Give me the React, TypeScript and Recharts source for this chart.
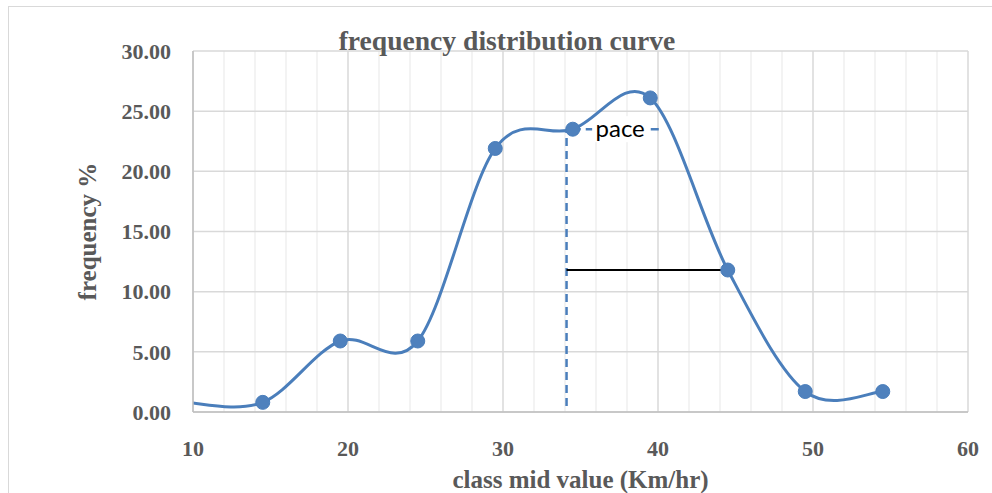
import { LineChart, Line, XAxis, YAxis, CartesianGrid, ReferenceLine } from "recharts";

// class mid values (km/hr) and frequency %
const midValues = [9.5, 14.5, 19.5, 24.5, 29.5, 34.5, 39.5, 44.5, 49.5, 54.5];
const frequency = [0.8, 0.8, 5.9, 5.9, 21.9, 23.5, 26.1, 11.8, 1.7, 1.7];

const xTicks = [10, 20, 30, 40, 50, 60];
const xMinor = [12, 14, 16, 18, 22, 24, 26, 28, 32, 34, 36, 38, 42, 44, 46, 48, 52, 54, 56, 58];
const yTicks = [0, 5, 10, 15, 20, 25, 30];

// annotation lines (data units)
const paceX = [34.1, 40.1];
const paceLevel = 23.5;
const paceBottom = 0.5;
const halfX = [34.1, 44.5];
const halfLevel = 11.8;

const data = midValues.map((m, i) => ({ mid: m, freq: frequency[i] }));

const BLUE = "#4a7ebb";
const GREY = "#595959";
const SERIF = "'Liberation Serif', 'Times New Roman', serif";

// excel-like smoothing (catmull-rom as bezier)
function smoothCurve(context: any) {
  let pts: number[][] = [];
  return {
    areaStart() {},
    areaEnd() {},
    lineStart() {
      pts = [];
    },
    point(x: number, y: number) {
      pts.push([+x, +y]);
    },
    lineEnd() {
      if (!pts.length) return;
      context.moveTo(pts[0][0], pts[0][1]);
      for (let i = 0; i < pts.length - 1; i++) {
        const p0 = pts[i - 1] || pts[i];
        const p1 = pts[i];
        const p2 = pts[i + 1];
        const p3 = pts[i + 2] || pts[i + 1];
        context.bezierCurveTo(
          p1[0] + (p2[0] - p0[0]) / 6,
          p1[1] + (p2[1] - p0[1]) / 6,
          p2[0] - (p3[0] - p1[0]) / 6,
          p2[1] - (p3[1] - p1[1]) / 6,
          p2[0],
          p2[1]
        );
      }
    },
  };
}

const renderDot = (props: any) => {
  const { cx, cy, payload, index } = props;
  if (payload.mid < 10) return <g key={`dot-${index}`} />;
  return <circle key={`dot-${index}`} cx={cx} cy={cy} r={7} fill="#4f81bd" stroke={BLUE} strokeWidth={1} />;
};

const paceLabel = (props: any) => {
  const vb = props.viewBox || {};
  const cx = (vb.x || 0) + (vb.width || 0) / 2 + 4;
  const cy = (vb.y || 0) + (vb.height || 0) / 2;
  return (
    <g>
      <rect x={cx - 28} y={cy - 13} width={56} height={26} fill="#fff" />
      <text x={cx} y={cy + 8} textAnchor="middle" fontFamily="Lato, 'Open Sans', sans-serif" fontSize={24} fill="#000">
        pace
      </text>
    </g>
  );
};

export default function App() {
  return (
    <div style={{ position: "absolute", left: 0, top: 0, width: 992, height: 493, overflow: "hidden", background: "#fff" }}>
      <div style={{ position: "absolute", left: 8, top: 6, width: 1100, height: 600, border: "1px solid #d9d9d9" }} />
      <div
        style={{
          position: "absolute",
          left: 0,
          width: 1014,
          top: 27,
          textAlign: "center",
          fontFamily: SERIF,
          fontWeight: "bold",
          fontSize: 27.6,
          lineHeight: 1,
          color: GREY,
          zIndex: 2,
        }}
      >
        frequency distribution curve
      </div>
      <div style={{ position: "absolute", left: 0, top: 0 }}>
        <LineChart width={992} height={493} data={data} margin={{ top: 51, right: 24, left: 0, bottom: 0 }}>
          <CartesianGrid horizontal={false} stroke="#efefef" strokeWidth={1.5} verticalValues={xMinor} />
          <CartesianGrid stroke="#d9d9d9" strokeWidth={1.5} />
          <XAxis
            dataKey="mid"
            type="number"
            domain={[10, 60]}
            ticks={xTicks}
            allowDataOverflow
            height={81}
            tickLine={false}
            axisLine={{ stroke: "#bfbfbf", strokeWidth: 1.5 }}
            tickMargin={22}
            tick={{ fill: GREY, fontSize: 22, fontWeight: "bold", fontFamily: SERIF }}
            label={{
              content: (p: any) => {
                const vb = p.viewBox;
                return (
                  <text
                    x={vb.x + vb.width / 2}
                    y={vb.y + 76}
                    textAnchor="middle"
                    fill={GREY}
                    fontSize={25}
                    fontWeight="bold"
                    fontFamily={SERIF}
                  >
                    class mid value (Km/hr)
                  </text>
                );
              },
            }}
          />
          <YAxis
            type="number"
            domain={[0, 30]}
            ticks={yTicks}
            width={193}
            tickLine={false}
            axisLine={{ stroke: "#bfbfbf", strokeWidth: 1.5 }}
            tickMargin={16}
            tickFormatter={(v: number) => v.toFixed(2)}
            tick={{ fill: GREY, fontSize: 22, fontWeight: "bold", fontFamily: SERIF }}
            label={{
              content: (p: any) => {
                const vb = p.viewBox;
                const x = vb.x + 96;
                const y = vb.y + vb.height / 2;
                return (
                  <text
                    x={x}
                    y={y}
                    transform={`rotate(-90, ${x}, ${y})`}
                    textAnchor="middle"
                    fill={GREY}
                    fontSize={25}
                    fontWeight="bold"
                    fontFamily={SERIF}
                  >
                    frequency %
                  </text>
                );
              },
            }}
          />
          <ReferenceLine
            segment={[
              { x: paceX[0], y: paceBottom },
              { x: paceX[0], y: paceLevel },
            ]}
            stroke={BLUE}
            strokeWidth={2.5}
            strokeDasharray="8 5"
          />
          <ReferenceLine
            segment={[
              { x: paceX[0] + 0.4, y: paceLevel },
              { x: paceX[1], y: paceLevel },
            ]}
            stroke={BLUE}
            strokeWidth={2.5}
            strokeDasharray="8 5"
            label={{ content: paceLabel }}
          />
          <ReferenceLine
            segment={[
              { x: halfX[0], y: halfLevel },
              { x: halfX[1], y: halfLevel },
            ]}
            stroke="#000"
            strokeWidth={1.8}
          />
          <Line
            dataKey="freq"
            type={smoothCurve as any}
            stroke={BLUE}
            strokeWidth={3}
            dot={renderDot}
            activeDot={false}
            isAnimationActive={false}
          />
        </LineChart>
      </div>
    </div>
  );
}
